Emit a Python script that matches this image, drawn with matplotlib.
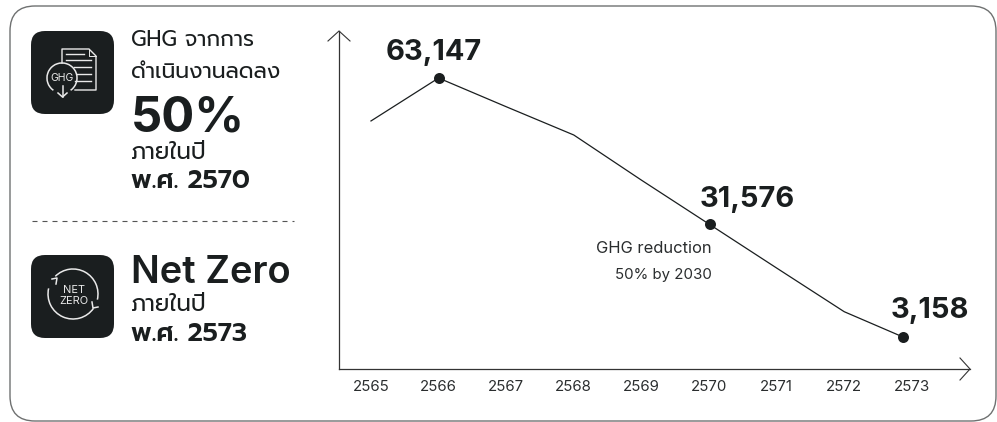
import numpy as np
import matplotlib
matplotlib.use("Agg")
import matplotlib.pyplot as plt
from matplotlib.patches import FancyBboxPatch, Arc

W = 997
H = 422
DARK = "#1a1e1f"
THAI = ["Prompt", "Inter"]
LATIN = ["Inter", "Prompt"]

years = [2565, 2566, 2567, 2568, 2569, 2570, 2571, 2572, 2573]
# last point sits left of its tick label in the original
line_x = [2565, 2566, 2567, 2568, 2569, 2570.01, 2571, 2572, 2572.87]
# scale taken from the first and last labelled points
line_y = [53200, 63147, 56500, 49950, 39500, 29220, 19140, 9020, 3158]
marked = [1, 5, 8]
marked_labels = ["63,147", "31,576", "3,158"]
label_offsets = [(-5, 18), (38, 17.5), (27, 19)]


def px(v):
    # pixels to points
    return v * 0.72


fig = plt.figure(figsize=(W / 100, H / 100), dpi=100)

# page layer in pixel coordinates: frame, icons and side text
bg = fig.add_axes([0, 0, 1, 1])
bg.set_xlim(0, W)
bg.set_ylim(H, 0)
bg.axis("off")


def round_box(ax, x0, y0, x1, y1, r, **kw):
    box = FancyBboxPatch((x0 + r, y0 + r), x1 - x0 - 2 * r, y1 - y0 - 2 * r,
                         boxstyle="round,pad=%f,rounding_size=%f" % (r, r), **kw)
    ax.add_patch(box)


round_box(bg, 10, 6, 996, 421, 25, fc="white", ec="#6f7171", lw=1.0)
bg.plot([32, 294], [221, 221], color="#555", lw=0.8, dashes=(4.5, 4.5))

round_box(bg, 31, 31, 114, 114, 14, fc=DARK, ec="none")
round_box(bg, 31, 255, 114, 338, 14, fc=DARK, ec="none")

ICON = "#e9e9e9"
# document
bg.plot([62, 62, 89, 96, 96, 75], [63, 49, 49, 56, 90, 90], color=ICON, lw=1.0)
bg.plot([89, 89, 96], [49, 56, 56], color=ICON, lw=0.7)
for ly, a, b in [(54, 66, 84), (60, 66, 91), (67, 74, 91), (74, 77, 91), (81, 75, 91)]:
    bg.plot([a, b], [ly, ly], color=ICON, lw=1.0)
# circle and down arrow
bg.add_patch(Arc((62, 78), 30, 30, theta1=125, theta2=55, color=ICON, lw=1.1))
bg.plot([62.5, 62.5], [86, 97], color=ICON, lw=1.1)
bg.plot([58, 62.5, 67], [93, 97, 93], color=ICON, lw=1.1)
bg.text(62, 78, "GHG", color=ICON, fontsize=px(10.5), family=LATIN, ha="center", va="center")

# net zero cycle
bg.add_patch(Arc((73, 294), 50, 50, theta1=225, theta2=373, color=ICON, lw=1.1))
bg.add_patch(Arc((73, 294), 50, 50, theta1=35, theta2=193, color=ICON, lw=1.1))
bg.plot([52, 57, 56], [279, 278, 284], color=ICON, lw=1.1)
bg.plot([92, 93, 98], [302, 308, 307], color=ICON, lw=1.1)
bg.text(74, 290, "NET", color=ICON, fontsize=px(11), family=LATIN, ha="center", va="center")
bg.text(74, 301, "ZERO", color=ICON, fontsize=px(11), family=LATIN, ha="center", va="center")

# side text
side = dict(color=DARK, ha="left", va="baseline")
bg.text(131, 46, "GHG จากการ", fontsize=px(21.5), family=THAI, **side)
bg.text(131, 78, "ดำเนินงานลดลง", fontsize=px(22), family=THAI, **side)
bg.text(131, 131, "50%", fontsize=px(49), family=LATIN, weight="bold", **side)
bg.text(131, 159, "ภายในปี", fontsize=px(23), family=THAI, **side)
bg.text(131, 188, "พ.ศ. 2570", fontsize=px(26), family=THAI, weight="semibold", **side)
bg.text(131, 283, "Net Zero", fontsize=px(38), family=LATIN, weight="semibold", **side)
bg.text(131, 311, "ภายในปี", fontsize=px(23), family=THAI, **side)
bg.text(131, 341, "พ.ศ. 2573", fontsize=px(26), family=THAI, weight="semibold", **side)

# chart
left, right, top, bottom = 339, 970, 31, 369
ax = fig.add_axes([left / W, 1 - bottom / H, (right - left) / W, (bottom - top) / H])
ax.patch.set_alpha(0)
ax.set_xlim(2564.527, 2573.861)
ax.set_ylim(-4255, 74040)
for s in ["top", "right"]:
    ax.spines[s].set_visible(False)
for s in ["left", "bottom"]:
    ax.spines[s].set_color("#333")
    ax.spines[s].set_linewidth(0.9)
ax.set_yticks([])
ax.set_xticks(years)
ax.set_xticklabels([str(y) for y in years], fontsize=px(15), family=LATIN, color="#2a2d2e")
ax.tick_params(axis="x", length=0, pad=px(11))

ax.plot(line_x, line_y, color=DARK, lw=0.9)
ax.plot([line_x[i] for i in marked], [line_y[i] for i in marked], "o", color=DARK, ms=px(11), mew=0)
for i, lab, off in zip(marked, marked_labels, label_offsets):
    ax.annotate(lab, (line_x[i], line_y[i]), xytext=(px(off[0]), px(off[1])), textcoords="offset points",
                fontsize=px(29), family=LATIN, weight="bold", color=DARK, ha="center", va="baseline")

ax.annotate("GHG reduction", (line_x[5], line_y[5]), xytext=(px(2), px(-29)), textcoords="offset points",
            fontsize=px(16.5), family=LATIN, color="#2a2d2e", ha="right", va="baseline")
ax.annotate("50% by 2030", (line_x[5], line_y[5]), xytext=(px(2), px(-55)), textcoords="offset points",
            fontsize=px(15), family=LATIN, color="#2a2d2e", ha="right", va="baseline")

# open arrow heads
bw = right - left
bh = bottom - top
ax.plot([1 - 10 / bw, 1, 1 - 10 / bw], [11 / bh, 0, -11 / bh], transform=ax.transAxes, color="#333", lw=0.8, clip_on=False)
ax.plot([-11 / bw, 0, 11 / bw], [1 - 10 / bh, 1, 1 - 10 / bh], transform=ax.transAxes, color="#333", lw=0.8, clip_on=False)

fig.savefig("out.png", dpi=100)
